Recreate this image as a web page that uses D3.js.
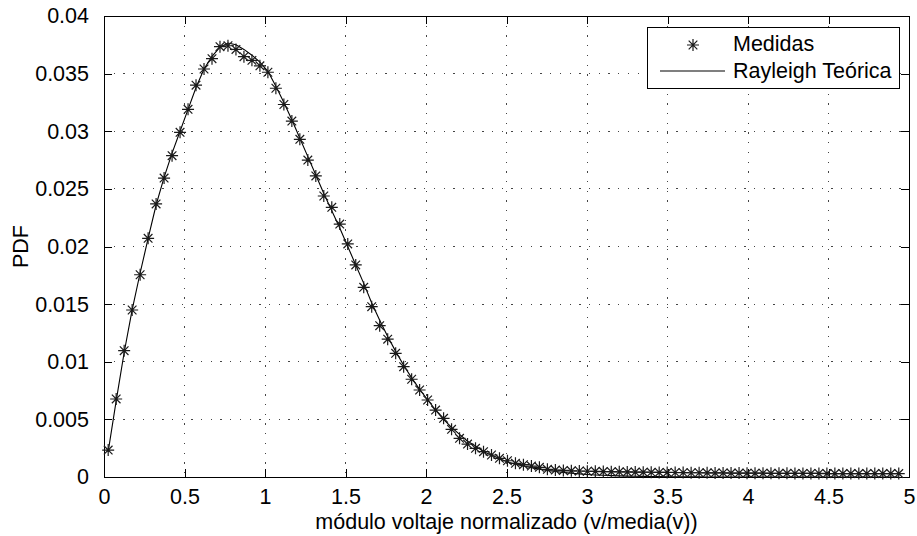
<!DOCTYPE html>
<html>
<head>
<meta charset="utf-8">
<script src="https://cdn.jsdelivr.net/npm/d3@7"></script>
<style>
body { margin:0; background:#fff; }
text { font-family: "Liberation Sans", Arial, Helvetica, sans-serif; fill:#000; }
</style>
</head>
<body>
<svg id="chart"></svg>
<script>
// histogram bin centres (x)
var binStart = 0.026;
var binWidth = 0.0496;

// measured PDF (asterisks)
var medidas = [
    0.00234, 0.00677, 0.01096, 0.01449, 0.01755, 0.02071, 0.02369, 0.02594, 0.02788, 0.02991,
    0.03190, 0.03400, 0.03540, 0.03630, 0.03734, 0.03742, 0.03710, 0.03647, 0.03615, 0.03568,
    0.03512, 0.03373, 0.03232, 0.03088, 0.02930, 0.02750, 0.02612, 0.02438, 0.02340, 0.02195,
    0.02022, 0.01840, 0.01646, 0.01478, 0.01313, 0.01196, 0.01073, 0.00957, 0.00848, 0.00755,
    0.00668, 0.00581, 0.00509, 0.00414, 0.00336, 0.00286, 0.00249, 0.00220, 0.00191, 0.00162,
    0.00141, 0.00119, 0.00107, 0.00095, 0.00084, 0.00067, 0.00060, 0.00057, 0.00054, 0.00052,
    0.00050, 0.00049, 0.00047, 0.00046, 0.00045, 0.00044, 0.00043, 0.00042, 0.00041, 0.00040,
    0.00040, 0.00039, 0.00038, 0.00037, 0.00037, 0.00036, 0.00035, 0.00035, 0.00034, 0.00034,
    0.00033, 0.00033, 0.00033, 0.00032, 0.00032, 0.00032, 0.00031, 0.00031, 0.00031, 0.00031,
    0.00030, 0.00030, 0.00030, 0.00030, 0.00030, 0.00030, 0.00030, 0.00030, 0.00030, 0.00030
];

// theoretical Rayleigh curve (solid line)
var teorica = [
    0.00220, 0.00660, 0.01080, 0.01450, 0.01770, 0.02070, 0.02360, 0.02600, 0.02810, 0.03000,
    0.03190, 0.03380, 0.03540, 0.03650, 0.03730, 0.03765, 0.03750, 0.03710, 0.03660, 0.03600,
    0.03520, 0.03390, 0.03250, 0.03100, 0.02940, 0.02780, 0.02620, 0.02460, 0.02310, 0.02160,
    0.02000, 0.01840, 0.01680, 0.01510, 0.01360, 0.01220, 0.01090, 0.00970, 0.00860, 0.00760,
    0.00670, 0.00580, 0.00500, 0.00430, 0.00370, 0.00310, 0.00270, 0.00220, 0.00190, 0.00160,
    0.00130, 0.00110, 0.00095, 0.00080, 0.00068, 0.00057, 0.00048, 0.00040, 0.00033, 0.00027,
    0.00022, 0.00018, 0.00015, 0.00012, 0.00010, 0.00008, 0.00006, 0.00005, 0.00004, 0.00003,
    0.00002, 0.00002, 0.00001, 0.00001, 0.00001, 0, 0, 0, 0, 0,
    0, 0, 0, 0, 0, 0, 0, 0, 0, 0,
    0, 0, 0, 0, 0, 0, 0, 0, 0, 0
];

var xTicks = [0, 0.5, 1, 1.5, 2, 2.5, 3, 3.5, 4, 4.5, 5];
var xTickLabels = ["0", "0.5", "1", "1.5", "2", "2.5", "3", "3.5", "4", "4.5", "5"];
var yTicks = [0, 0.005, 0.01, 0.015, 0.02, 0.025, 0.03, 0.035, 0.04];
var yTickLabels = ["0", "0.005", "0.01", "0.015", "0.02", "0.025", "0.03", "0.035", "0.04"];

var seriesNames = ["Medidas", "Rayleigh Teórica"];
var xTitle = "módulo voltaje normalizado (v/media(v))";
var yTitle = "PDF";

var screen = {width:917, height:536};
var margins = {top:16, bottom:59, left:104, right:8};
var graph =
    {
        width:screen.width-margins.left-margins.right,
        height:screen.height-margins.top-margins.bottom
    };
var fontSize = 21.5;
var tickLen = 8;

var svg = d3.select("#chart")
    .attr("width", screen.width)
    .attr("height", screen.height);

var xScale = d3.scaleLinear()
    .domain([0, 5])
    .range([0, graph.width]);

var yScale = d3.scaleLinear()
    .domain([0, 0.04])
    .range([graph.height, 0]);

var g = svg.append("g")
    .attr("transform", "translate(" + margins.left + "," + margins.top + ")");

//dotted grid
var grid = g.append("g").classed("grid", true);
grid.selectAll("line.gx")
    .data(xTicks.slice(1, -1))
    .enter()
    .append("line")
    .attr("x1", function(d) {return xScale(d)})
    .attr("x2", function(d) {return xScale(d)})
    .attr("y1", 0)
    .attr("y2", graph.height);
grid.selectAll("line.gy")
    .data(yTicks.slice(1, -1))
    .enter()
    .append("line")
    .attr("y1", function(d) {return yScale(d)})
    .attr("y2", function(d) {return yScale(d)})
    .attr("x1", 0)
    .attr("x2", graph.width);
grid.selectAll("line")
    .attr("stroke", "#444")
    .attr("stroke-width", 1)
    .attr("stroke-dasharray", "1.3,8.4")
    .attr("shape-rendering", "crispEdges");

//axes, ticks pointing inwards on all four sides
var styleAxis = function(sel)
{
    sel.select(".domain").remove();
    sel.selectAll(".tick line")
        .attr("stroke", "#000")
        .attr("shape-rendering", "crispEdges");
    sel.selectAll(".tick text")
        .attr("font-size", fontSize)
        .attr("font-family", "Liberation Sans, Arial, sans-serif")
        .attr("fill", "#000");
};

g.append("g")
    .attr("transform", "translate(0," + graph.height + ")")
    .call(d3.axisBottom(xScale)
        .tickValues(xTicks)
        .tickSize(-tickLen)
        .tickPadding(tickLen + 4)
        .tickFormat(function(d, i) {return xTickLabels[i]}))
    .call(styleAxis)
    .selectAll(".tick text")
    .attr("dy", "0.71em");

g.append("g")
    .call(d3.axisLeft(yScale)
        .tickValues(yTicks)
        .tickSize(-tickLen)
        .tickPadding(tickLen + 7)
        .tickFormat(function(d, i) {return yTickLabels[i]}))
    .call(styleAxis);

g.append("g")
    .call(d3.axisTop(xScale).tickValues(xTicks).tickSize(-tickLen).tickFormat(""))
    .call(styleAxis);

g.append("g")
    .attr("transform", "translate(" + graph.width + ",0)")
    .call(d3.axisRight(yScale).tickValues(yTicks).tickSize(-tickLen).tickFormat(""))
    .call(styleAxis);

g.append("rect")
    .attr("width", graph.width)
    .attr("height", graph.height)
    .attr("fill", "none")
    .attr("stroke", "#000")
    .attr("stroke-width", 1)
    .attr("shape-rendering", "crispEdges");

//theoretical line
var line = d3.line()
    .x(function(d, i) {return xScale(binStart + i * binWidth)})
    .y(function(d) {return yScale(d)});

g.append("path")
    .datum(teorica)
    .attr("d", line)
    .attr("fill", "none")
    .attr("stroke", "#000")
    .attr("stroke-width", 1.1);

//asterisk marker = plus + cross
var star = function(r)
{
    var c = r * 0.72;
    return "M" + (-r) + ",0H" + r + "M0," + (-r) + "V" + r +
        "M" + (-c) + "," + (-c) + "L" + c + "," + c +
        "M" + (-c) + "," + c + "L" + c + "," + (-c);
};

g.append("g")
    .selectAll("path")
    .data(medidas)
    .enter()
    .append("path")
    .attr("transform", function(d, i)
        {return "translate(" + xScale(binStart + i * binWidth) + "," + yScale(d) + ")"})
    .attr("d", star(6))
    .attr("fill", "none")
    .attr("stroke", "#1a1a1a")
    .attr("stroke-width", 1.2);

//axis titles
svg.append("text")
    .attr("x", margins.left + graph.width / 2)
    .attr("y", 529)
    .attr("text-anchor", "middle")
    .attr("font-size", fontSize)
    .text(xTitle);

svg.append("text")
    .attr("transform", "translate(28," + (margins.top + graph.height / 2) + ") rotate(-90)")
    .attr("text-anchor", "middle")
    .attr("font-size", fontSize)
    .text(yTitle);

//legend
var legend = svg.append("g")
    .attr("transform", "translate(647,27)");

legend.append("rect")
    .attr("width", 252)
    .attr("height", 61)
    .attr("fill", "#fff")
    .attr("stroke", "#000")
    .attr("stroke-width", 1)
    .attr("shape-rendering", "crispEdges");

legend.append("path")
    .attr("transform", "translate(46,18)")
    .attr("d", star(6))
    .attr("fill", "none")
    .attr("stroke", "#1a1a1a")
    .attr("stroke-width", 1.2);

legend.append("line")
    .attr("x1", 13)
    .attr("x2", 78)
    .attr("y1", 44)
    .attr("y2", 44)
    .attr("stroke", "#000")
    .attr("stroke-width", 1.1);

legend.selectAll("text")
    .data(seriesNames)
    .enter()
    .append("text")
    .attr("x", 86)
    .attr("y", function(d, i) {return 24 + i * 27})
    .attr("font-size", fontSize)
    .text(function(d) {return d});
</script>
</body>
</html>
